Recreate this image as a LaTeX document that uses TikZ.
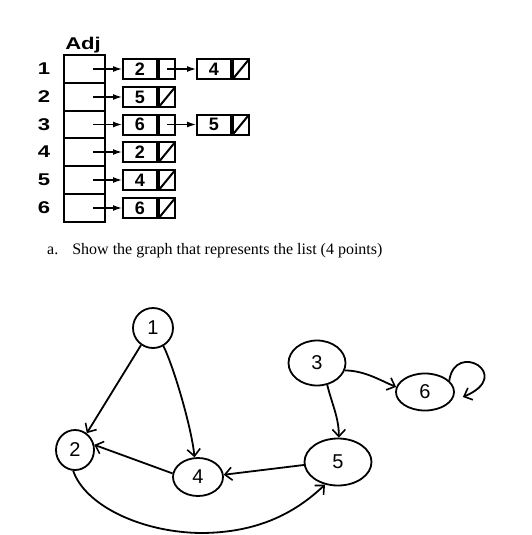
\documentclass[tikz,border=0pt]{standalone}
\usepackage{fontspec}
\setmainfont{Liberation Serif}
\newfontfamily\hv{Liberation Sans}
\usetikzlibrary{arrows.meta,shapes.geometric}
\begin{document}
\begin{tikzpicture}[x=1pt,y=-1pt,
  lbl/.style={font=\hv\bfseries\fontsize{17}{18}\selectfont, xscale=1.3, inner sep=0pt},
  adjcell/.style={draw, line width=1.5pt, minimum width=41pt, minimum height=27.8pt, inner sep=0pt},
  valcell/.style={draw, line width=2pt, minimum width=34pt, minimum height=20pt, inner sep=0pt,
    font=\hv\bfseries\fontsize{18}{18}\selectfont},
  ptrcell/.style={draw, line width=2pt, minimum width=16pt, minimum height=20pt, inner sep=0pt},
  tarrow/.style={line width=1.3pt, -{Latex[length=9pt,width=6pt]}},
  nullslash/.style={line width=2pt, shorten <=2pt, shorten >=2pt},
  gnode/.style={draw, ellipse, line width=1.8pt, inner sep=0pt, font=\hv\fontsize{20}{20}\selectfont},
  garrow/.style={line width=1.8pt, -{Straight Barb[length=7pt,width=13pt,line width=1.6pt]}}
]
\useasboundingbox (0,0) rectangle (532,535);

% ---------- adjacency list ----------
\node[lbl, anchor=north west] (adj) at (65,37) {Adj};
\foreach \i/\y in {1/69,2/97,3/124.5,4/152,5/180,6/208}{
  \node[adjcell] (r\i) at (84.5,\y) {};
  \node[lbl] (l\i) at (44,\y) {\i};
}
% first column list nodes
\foreach \i/\v/\y in {1/2/69,2/5/97,3/6/124.5,4/2/152,5/4/180,6/6/208}{
  \node[valcell] (v\i) at (140,\y) {\v};
  \node[ptrcell, anchor=west] (p\i) at (v\i.east) {};
  \draw[tarrow] ([xshift=8.5pt]r\i.center) -- (v\i.west);
}
% nulls in first column
\foreach \i in {2,4,5,6}{
  \draw[nullslash] (p\i.south west) -- (p\i.north east);
}
% second column
\node[valcell] (w1) at (214,69) {4};
\node[ptrcell, anchor=west] (q1) at (w1.east) {};
\node[valcell] (w3) at (214,124.5) {5};
\node[ptrcell, anchor=west] (q3) at (w3.east) {};
\draw[nullslash] (q1.south west) -- (q1.north east);
\draw[nullslash] (q3.south west) -- (q3.north east);
\draw[tarrow] (p1.center) -- (w1.west);
\draw[tarrow] (p3.center) -- (w3.west);

% ---------- caption ----------
\node[anchor=base west, inner sep=0pt, font=\fontsize{16}{19}\selectfont] (cap) at (47,254)
  {a.\hspace{14pt}Show the graph that represents the list (4 points)};

% ---------- graph ----------
\node[gnode, minimum width=40pt, minimum height=40pt] (n1) at (153,328) {1};
\node[gnode, minimum width=38pt, minimum height=40pt] (n2) at (75,450) {2};
\node[gnode, minimum width=50pt, minimum height=38pt] (n4) at (198,477) {4};
\node[gnode, minimum width=57pt, minimum height=45pt] (n3) at (317,363) {3};
\node[gnode, minimum width=58pt, minimum height=37pt] (n6) at (425,392) {6};
\node[gnode, minimum width=67pt, minimum height=47pt] (n5) at (338,462) {5};

\draw[garrow] (n1.235) -- (n2.55);
\draw[garrow] (n1.300) .. controls +(10,20) and +(-3,-30) .. (n4.100);
\draw[garrow] (n4.172) -- (n2.15);
\draw[garrow] (n5.185) -- (n4.5);
\draw[garrow] (n2.265) .. controls (85,505) and (140,532) .. (200,533)
  .. controls (250,533) and (290,518) .. (n5.240);
\draw[garrow] (n3.295) .. controls +(5,20) and +(0,-20) .. (n5.88);
\draw[garrow] (n3.345) .. controls +(20,0) and +(-15,-6) .. (n6.170);
\draw[garrow] (n6.25) .. controls (455,340) and (515,375) .. ([shift={(8,5)}]n6.east);
\end{tikzpicture}
\end{document}
